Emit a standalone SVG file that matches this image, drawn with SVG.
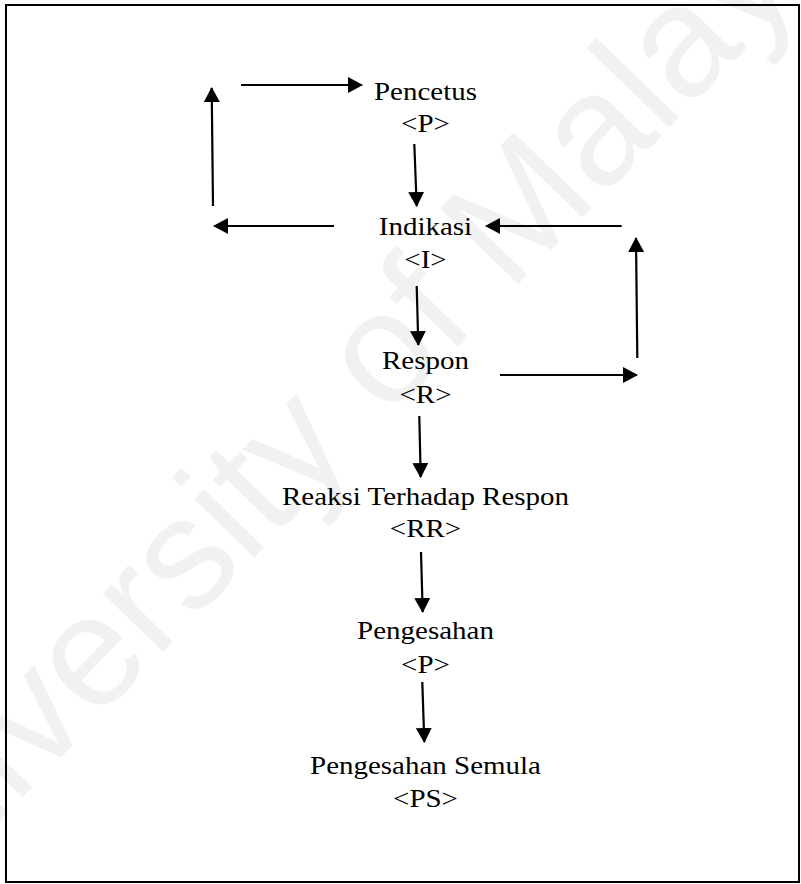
<svg xmlns="http://www.w3.org/2000/svg" width="801" height="884" viewBox="0 0 801 884">
  <style>
    .lbl { font-family: "Liberation Serif", "Times New Roman", serif; font-size: 26px; fill: #000; text-anchor: middle; }
    .wm { font-family: "Liberation Sans", Arial, sans-serif; font-size: 158px; fill: #f1f1f1; }
    .conn { stroke: #000; stroke-width: 2.2; fill: none; marker-end: url(#head); }
  </style>
  <defs>
    <marker id="head" markerUnits="userSpaceOnUse" markerWidth="15" markerHeight="16" refX="14" refY="8" orient="auto">
      <path d="M0,0 L15,8 L0,16 Z" fill="#000"/>
    </marker>
  </defs>

  <rect width="801" height="884" fill="#fff"/>

  <!-- background watermark -->
  <text class="wm" transform="translate(-125,950) rotate(-46)">University of Malaya</text>

  <!-- frame -->
  <rect x="6" y="5" width="793" height="877" fill="none" stroke="#000" stroke-width="2"/>

  <!-- nodes -->
  <g id="pencetus" transform="translate(425.5,0)">
    <text class="lbl" transform="translate(0,100) scale(1.115,1)">Pencetus</text>
    <text class="lbl" transform="translate(0,131.5) scale(1.115,1)">&lt;P&gt;</text>
  </g>
  <g id="indikasi" transform="translate(425.5,0)">
    <text class="lbl" transform="translate(0,235) scale(1.115,1)">Indikasi</text>
    <text class="lbl" transform="translate(0,268) scale(1.115,1)">&lt;I&gt;</text>
  </g>
  <g id="respon" transform="translate(425.5,0)">
    <text class="lbl" transform="translate(0,369) scale(1.115,1)">Respon</text>
    <text class="lbl" transform="translate(0,403) scale(1.115,1)">&lt;R&gt;</text>
  </g>
  <g id="reaksi" transform="translate(425.5,0)">
    <text class="lbl" transform="translate(0,505) scale(1.115,1)">Reaksi Terhadap Respon</text>
    <text class="lbl" transform="translate(0,536.5) scale(1.115,1)">&lt;RR&gt;</text>
  </g>
  <g id="pengesahan" transform="translate(425.5,0)">
    <text class="lbl" transform="translate(0,638.5) scale(1.115,1)">Pengesahan</text>
    <text class="lbl" transform="translate(0,673) scale(1.115,1)">&lt;P&gt;</text>
  </g>
  <g id="pengesahan-semula" transform="translate(425.5,0)">
    <text class="lbl" transform="translate(0,774) scale(1.115,1)">Pengesahan Semula</text>
    <text class="lbl" transform="translate(0,806.5) scale(1.115,1)">&lt;PS&gt;</text>
  </g>

  <!-- connectors -->
  <g id="connectors">
    <line class="conn" x1="241" y1="85" x2="362" y2="85"/>
    <line class="conn" x1="213" y1="206" x2="211.7" y2="88"/>
    <line class="conn" x1="334" y1="226" x2="214" y2="226"/>
    <line class="conn" x1="414.3" y1="144" x2="416.7" y2="206"/>
    <line class="conn" x1="621.7" y1="226" x2="486" y2="226"/>
    <line class="conn" x1="637.3" y1="358" x2="636" y2="238"/>
    <line class="conn" x1="500" y1="375" x2="637" y2="375"/>
    <line class="conn" x1="416.7" y1="286" x2="418.3" y2="345"/>
    <line class="conn" x1="419.3" y1="416" x2="420.7" y2="477"/>
    <line class="conn" x1="421" y1="552" x2="422.7" y2="612"/>
    <line class="conn" x1="422.3" y1="682" x2="424.3" y2="742"/>
  </g>
</svg>
